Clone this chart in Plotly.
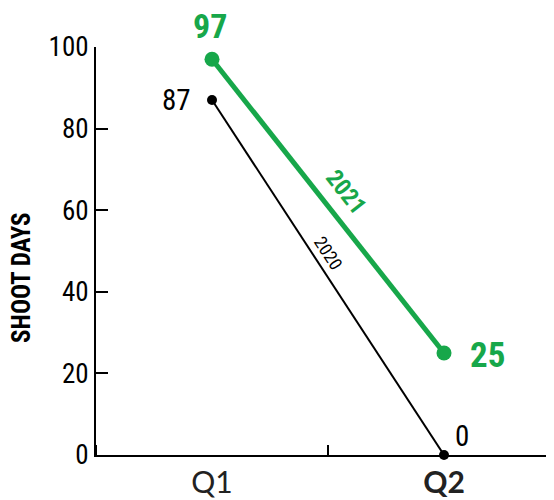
import plotly.graph_objects as go

quarters = ["Q1", "Q2"]
x_idx = [0, 1]
days_2020 = [87, 0]
days_2021 = [97, 25]
tick_labels = ["Q1", "<b>Q2</b>"]
y_ticks = [0, 20, 40, 60, 80, 100]

GREEN = "#17a74a"
COND = "Roboto Condensed, Open Sans Condensed, sans-serif"

fig = go.Figure()
fig.add_trace(go.Scatter(x=x_idx, y=days_2020, mode="lines+markers",
                         line=dict(color="black", width=2),
                         marker=dict(color="black", size=10), cliponaxis=False,
                         hoverinfo="skip", showlegend=False))
fig.add_trace(go.Scatter(x=x_idx, y=days_2021, mode="lines+markers",
                         line=dict(color=GREEN, width=5),
                         marker=dict(color=GREEN, size=15), cliponaxis=False,
                         hoverinfo="skip", showlegend=False))

# value labels
fig.add_annotation(x=x_idx[0], y=days_2021[0], text=f"{days_2021[0]}", showarrow=False,
                   yshift=33, xshift=-2, font=dict(family=COND, size=34, weight=700, color=GREEN))
fig.add_annotation(x=x_idx[1], y=days_2021[1], text=f"{days_2021[1]}", showarrow=False,
                   xshift=43, yshift=-2, font=dict(family=COND, size=35, weight=700, color=GREEN))
fig.add_annotation(x=x_idx[0], y=days_2020[0], text=f"{days_2020[0]}", showarrow=False,
                   xshift=-36, yshift=0, font=dict(family=COND, size=29, color="black"))
fig.add_annotation(x=x_idx[1], y=days_2020[1], text=f"{days_2020[1]}", showarrow=False,
                   xshift=18, yshift=19, font=dict(family=COND, size=29, color="black"))

# series labels along lines
fig.add_annotation(x=0.578, y=64.5, text="2021", showarrow=False, textangle=51.7,
                   font=dict(family=COND, size=24, weight=700, color=GREEN))
fig.add_annotation(x=0.502, y=49.3, text="2020", showarrow=False, textangle=57,
                   font=dict(family=COND, size=18, color="black"))

# axis title
fig.add_annotation(xref="paper", yref="y", x=-0.1616, y=43.4, xanchor="center", yanchor="middle",
                   text="SHOOT DAYS", showarrow=False,
                   textangle=-90, font=dict(family=COND, size=25, weight=700, color="black"))

# page body has an 8px default margin, so the figure is sized to end at the window edge
fig.update_layout(
    width=546, height=492,
    margin=dict(l=88, r=0, t=39, b=45),
    plot_bgcolor="white", paper_bgcolor="white",
    xaxis=dict(range=[-0.5, 1.474], tickvals=x_idx, ticktext=tick_labels,
               showgrid=False, zeroline=False, showline=True, linecolor="black", linewidth=2,
               ticks="", ticklabelstandoff=0, automargin=False,
               tickfont=dict(family="Lato, Noto Sans, sans-serif", size=30, color="#222"),
               minor=dict(tick0=0.5, dtick=1, ticks="inside", ticklen=10, tickcolor="black", tickwidth=2)),
    yaxis=dict(range=[0, 100], tickvals=y_ticks, showgrid=False, zeroline=False,
               showline=True, linecolor="black", linewidth=2, automargin=False,
               ticks="inside", ticklen=12, tickwidth=2, tickcolor="black",
               tickfont=dict(family=COND, size=27, color="black")),
)
fig.write_html("out.html")
